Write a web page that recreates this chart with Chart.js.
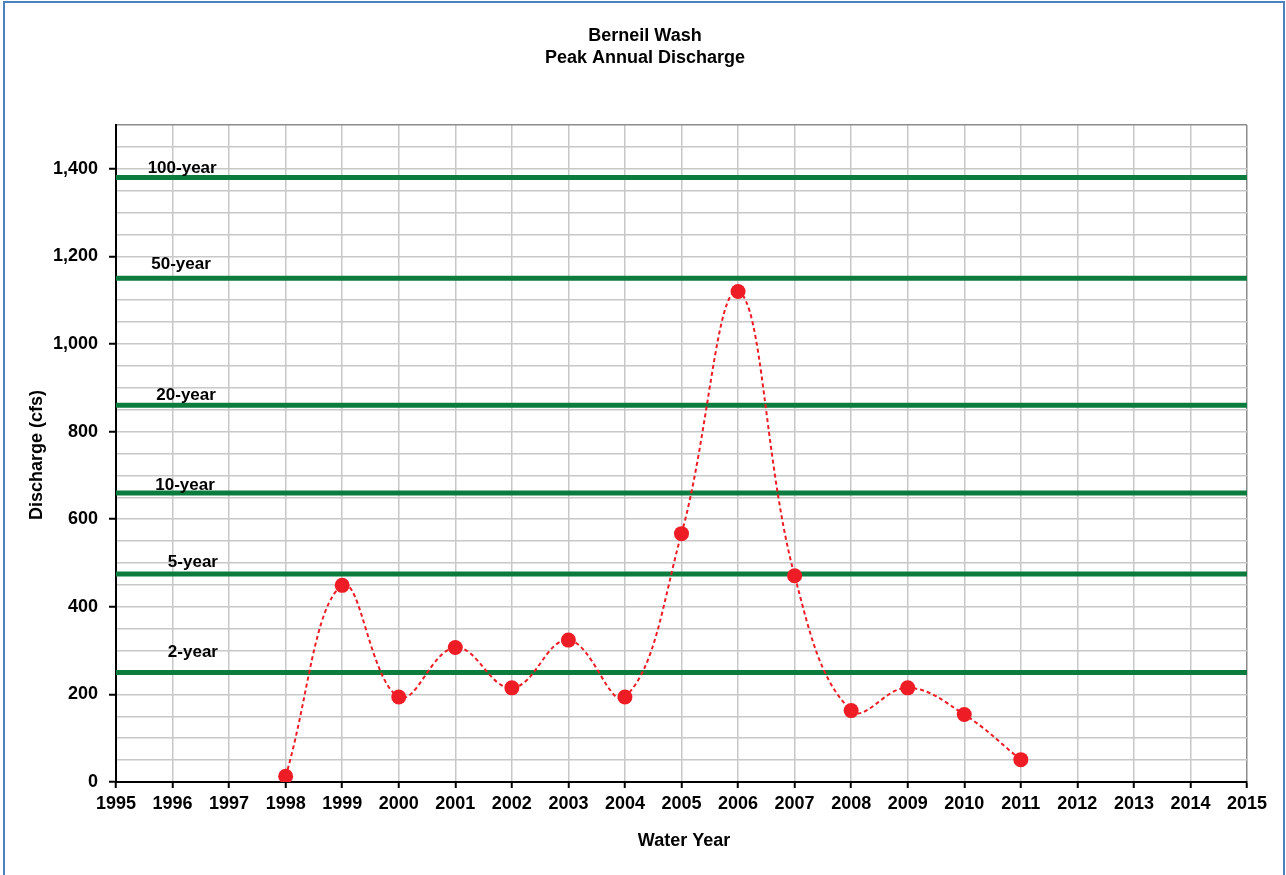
<!DOCTYPE html>
<html>
<head>
<meta charset="utf-8">
<script src="https://cdn.jsdelivr.net/npm/chart.js@4.4.0/dist/chart.umd.min.js"></script>
<style>
  html, body { margin: 0; padding: 0; background: #fff; }
  #wrap { position: relative; width: 1286px; height: 875px; }
</style>
</head>
<body>
<div id="wrap"><canvas id="peakChart"></canvas></div>
<script>
// peak annual discharge, cfs
const years = [1998, 1999, 2000, 2001, 2002, 2003, 2004, 2005, 2006, 2007, 2008, 2009, 2010, 2011];
const discharge = [13, 449, 194, 307, 215, 324, 194, 567, 1120, 471, 163, 215, 154, 51];

// return period flows (green lines)
const returnPeriods = ['100-year', '50-year', '20-year', '10-year', '5-year', '2-year'];
const returnFlows = [1380, 1150, 860, 660, 475, 250];
// where each label sits (year, cfs)
const labelYears = [1996.17, 1996.15, 1996.24, 1996.22, 1996.36, 1996.36];
const labelFlows = [1400, 1183, 883, 677, 501, 295];

const yLabelTicks = [0, 200, 400, 600, 800, 1000, 1200, 1400];

const FONT = '"Liberation Sans", Arial, sans-serif';
const isLabelTick = v => yLabelTicks.includes(v);

const greenSets = returnFlows.map((q, i) => ({
  label: returnPeriods[i],
  data: [{ x: 1995, y: q }, { x: 2015, y: q }],
  borderColor: '#0b7b3e',
  borderWidth: 5,
  pointRadius: 0,
  tension: 0
}));

const decorations = {
  id: 'decorations',
  afterDraw(chart) {
    const ctx = chart.ctx;
    const xs = chart.scales.x, ys = chart.scales.y;
    ctx.save();
    // outer blue frame
    ctx.strokeStyle = '#4f81bd';
    ctx.lineWidth = 2;
    ctx.strokeRect(4, 2, 1280, 900);

    ctx.fillStyle = '#000';
    ctx.textAlign = 'center';
    ctx.textBaseline = 'middle';
    ctx.font = 'bold 18px ' + FONT;
    ctx.fillText('Berneil Wash', 645, 36);
    ctx.fillText('Peak Annual Discharge', 645, 58);
    ctx.fillText('Water Year', 684, 841);

    ctx.save();
    ctx.translate(37, 455);
    ctx.rotate(-Math.PI / 2);
    ctx.fillText('Discharge (cfs)', 0, 0);
    ctx.restore();

    ctx.font = 'bold 17px ' + FONT;
    returnPeriods.forEach((name, i) => {
      ctx.fillText(name, xs.getPixelForValue(labelYears[i]), ys.getPixelForValue(labelFlows[i]));
    });
    ctx.restore();
  }
};

new Chart(document.getElementById('peakChart'), {
  type: 'line',
  data: {
    datasets: [{
      label: 'Peak discharge',
      data: years.map((y, i) => ({ x: y, y: discharge[i] })),
      borderColor: '#ee1c25',
      backgroundColor: '#ee1c25',
      borderWidth: 2,
      borderDash: [4, 3],
      pointRadius: 7.5,
      pointBorderWidth: 0,
      tension: 0.4
    }, ...greenSets]
  },
  options: {
    responsive: true,
    maintainAspectRatio: false,
    animation: false,
    layout: { padding: { left: 0, right: 39, top: 125, bottom: 0 } },
    plugins: {
      legend: { display: false },
      tooltip: { enabled: false },
      title: { display: false }
    },
    scales: {
      x: {
        type: 'linear',
        min: 1995,
        max: 2015,
        afterFit: s => { s.height = 93; },
        ticks: {
          stepSize: 1,
          autoSkip: false,
          maxRotation: 0,
          padding: 5,
          color: '#000',
          font: { family: FONT, size: 18, weight: 'bold' },
          callback: v => String(v)
        },
        grid: {
          color: c => c.tick && c.tick.value === 2015 ? '#8c8c8c' : '#c8c8c8',
          lineWidth: 1.5,
          tickColor: '#000',
          tickWidth: 2,
          tickLength: 6
        },
        border: { color: '#000', width: 2 }
      },
      y: {
        min: 0,
        max: 1500,
        afterFit: s => { s.width = 116; },
        ticks: {
          stepSize: 50,
          autoSkip: false,
          padding: 11,
          color: '#000',
          font: { family: FONT, size: 18, weight: 'bold' },
          callback: v => isLabelTick(v) ? v.toLocaleString('en-US') : ''
        },
        grid: {
          color: c => c.tick && c.tick.value === 1500 ? '#8c8c8c' : '#c8c8c8',
          lineWidth: 1.5,
          tickColor: c => c.tick && isLabelTick(c.tick.value) ? '#000' : 'rgba(0,0,0,0)',
          tickWidth: 2,
          tickLength: 7
        },
        border: { color: '#000', width: 2 }
      }
    }
  },
  plugins: [decorations]
});
</script>
</body>
</html>
